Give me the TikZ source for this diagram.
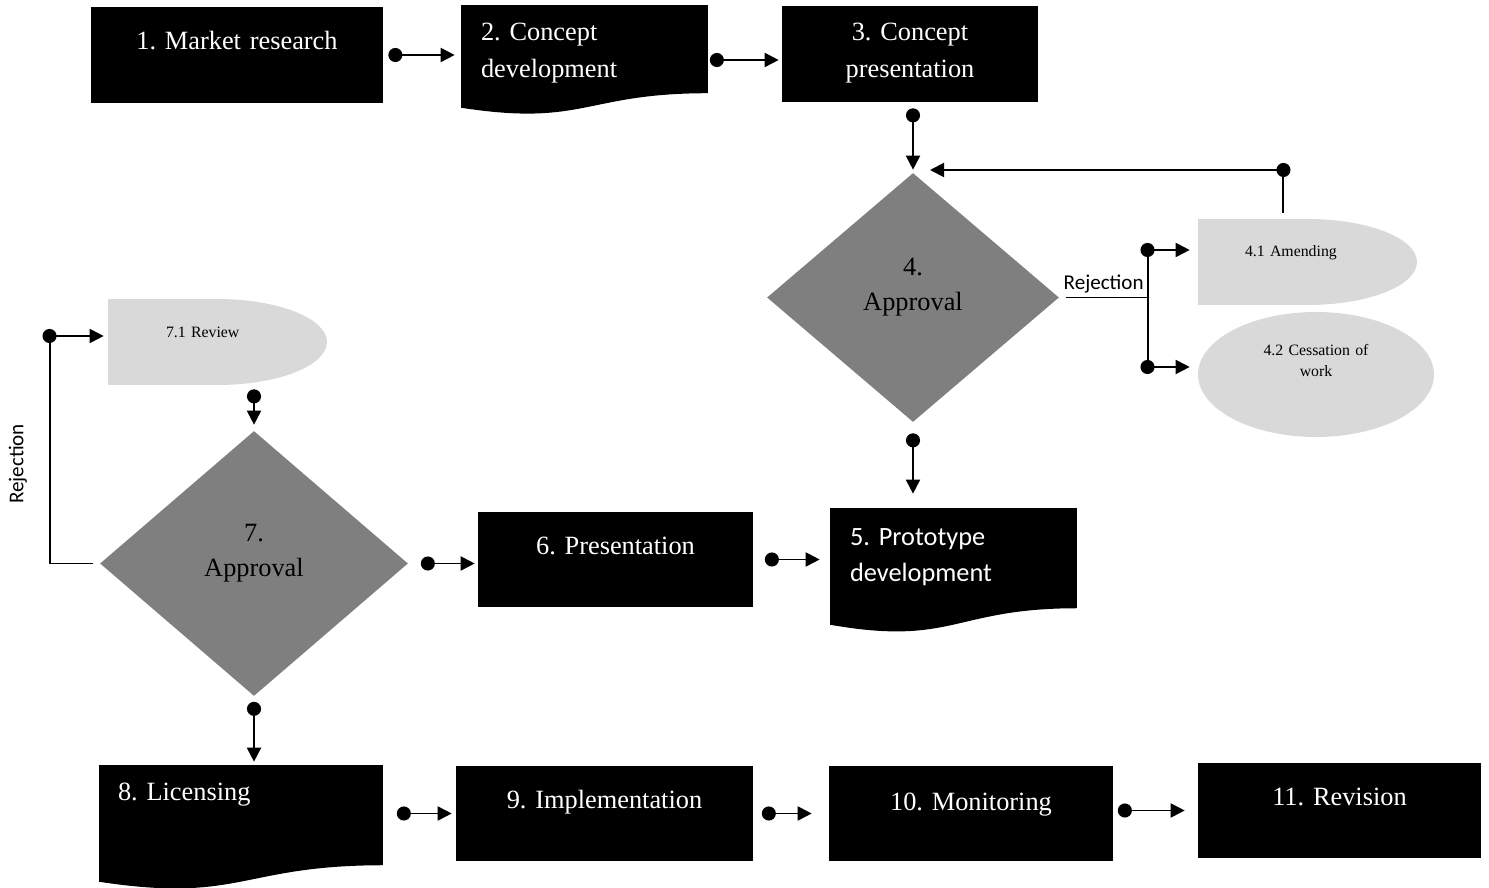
\documentclass[tikz,border=0pt]{standalone}
\usepackage{fontspec}
\setmainfont{Liberation Serif}
\newfontfamily\calibri{Carlito}
\usetikzlibrary{arrows.meta,shapes.geometric,calc}

\definecolor{dgray}{RGB}{127,127,127}
\definecolor{lgray}{RGB}{217,217,217}

\tikzset{
  bigfont/.style={font=\fontsize{15}{21}\selectfont},
  smallfont/.style={font=\fontsize{9}{12.5}\selectfont},
  box/.style={bigfont, fill=black, text=white, inner sep=0pt, text height=0.4cm, align=center},
  docbox/.style={bigfont, text=white, inner ysep=0pt, inner xsep=0.4cm, text height=0.4cm, align=left,
    path picture={\fill[black] let \p1=(path picture bounding box.north west),
      \p2=(path picture bounding box.south east) in
      (\x1,\y1) -- (\x2,\y1) -- (\x2,{\y1+0.802*(\y2-\y1)})
      .. controls ({(\x1+\x2)/2},{\y1+0.802*(\y2-\y1)}) and ({(\x1+\x2)/2},{\y1+1.1075*(\y2-\y1)})
      .. (\x1,{\y1+0.934*(\y2-\y1)}) -- cycle;}},
  delaybox/.style={smallfont, inner ysep=0pt, text height=0.4cm, align=left,
    path picture={\fill[lgray] let \p1=(path picture bounding box.north west),
      \p2=(path picture bounding box.south east),
      \n1={(\x2-\x1)/2}, \n2={(\y1-\y2)/2} in
      (\x1,\y1) -- ({\x1+\n1},\y1)
      arc[start angle=90, end angle=-90, x radius={\n1*1pt}, y radius={\n2*1pt}]
      -- (\x1,\y2) -- cycle;}},
  decision/.style={diamond, fill=dgray, inner sep=0pt, text height=0.4cm, text width=2.4cm,
    align=center, font=\fontsize{15}{20}\selectfont},
  rejlabel/.style={font=\calibri\fontsize{12}{14}\selectfont, inner sep=2pt},
  wire/.style={line width=1.1pt},
  flow/.style={wire, {Circle[length=8pt]}-{Triangle[length=8pt,width=8pt]}}
}

\begin{document}
\frenchspacing
\begin{tikzpicture}[x=0.02cm, y=-0.02cm]

    \useasboundingbox (0,0) rectangle (1489,888);

    % Etapes du haut
    \node[box, minimum width=5.84cm, minimum height=1.92cm, text width=5.84cm, text depth=0.6cm] (b1) at (237,55) {1. Market research};
    \node[docbox, minimum width=4.94cm, minimum height=2.2cm, text width=4.14cm, text depth=1.16cm] (b2) at (584.5,60) {2. Concept\\development};
    \node[box, minimum width=5.12cm, minimum height=1.92cm, text width=5.12cm, text depth=0.92cm] (b3) at (910,54) {3. Concept\\presentation};

    \node[decision, minimum width=5.84cm, minimum height=4.98cm, text depth=1.3cm] (d4) at (913,297.5) {4.\\Approval};
    \node[delaybox, minimum width=4.38cm, minimum height=1.72cm, inner xsep=0.94cm, text width=2.5cm, text depth=0.6cm] (a41) at (1307.5,262) {4.1 Amending};
    \node[ellipse, fill=lgray, smallfont, inner sep=0pt, minimum width=4.72cm, minimum height=2.5cm, text width=2.3cm, align=center, text height=0.4cm, text depth=1.18cm] (a42) at (1316,374.5) {4.2 Cessation of\\work};

    % Etapes du milieu
    \node[docbox, font=\calibri\fontsize{15}{21}\selectfont, minimum width=4.94cm, minimum height=2.5cm, text width=4.14cm, text depth=1.42cm] (b5) at (953.5,570.5) {5. Prototype\\development};
    \node[box, minimum width=5.5cm, minimum height=1.9cm, text width=5.5cm, text depth=0.62cm] (b6) at (615.5,559.5) {6. Presentation};
    \node[decision, minimum width=6.16cm, minimum height=5.3cm, text depth=1.3cm] (d7) at (254,563.5) {7.\\Approval};
    \node[delaybox, minimum width=4.38cm, minimum height=1.72cm, inner xsep=1.16cm, text width=2.06cm, text depth=0.56cm] (r71) at (217.5,342) {7.1 Review};

    % Etapes du bas
    \node[docbox, minimum width=5.68cm, minimum height=2.5cm, inner xsep=0.38cm, text width=4.92cm, text depth=1.5cm] (b8) at (241,827.5) {8. Licensing};
    \node[box, minimum width=5.94cm, minimum height=1.9cm, text width=5.94cm, text depth=0.62cm] (b9) at (604.5,813.5) {9. Implementation};
    \node[box, minimum width=5.68cm, minimum height=1.9cm, text width=5.68cm, text depth=0.54cm] (b10) at (971,813.5) {10. Monitoring};
    \node[box, minimum width=5.66cm, minimum height=1.9cm, text width=5.66cm, text depth=0.62cm] (b11) at (1339.5,810.5) {11. Revision};

    \coordinate (ret) at (1283,170);
    \coordinate (rej4) at (1148,297.5);
    \coordinate (rj1) at (1148,250);
    \coordinate (rj2) at (1148,367);
    \coordinate (rej7) at (50,563.5);
    \coordinate (rej7t) at (50,336);

    % Fleches
    \draw[flow, shorten <=0.1cm, shorten >=0.12cm] (b1.east) -- (b1.east -| b2.west);
    \draw[flow, shorten <=0.03cm, shorten >=0.06cm] (b2.east) -- (b2.east -| b3.west);
    \draw[flow, shorten <=0.12cm, shorten >=0.06cm] (b3.south -| d4.north) -- (d4.north);

    \draw[wire, shorten <=0.12cm] (a41.north -| ret) -- (ret);
    \draw[flow, shorten <=-0.15cm, shorten >=0.34cm] (ret) -- (ret -| d4.north);

    \draw[wire, shorten <=0.14cm] (d4.east) -- (rej4) node[midway, above, rejlabel] {Rejection};
    \draw[wire] (rj1) -- (rj2);
    \draw[flow, shorten <=-0.15cm, shorten >=0.16cm] (rj1) -- (rj1 -| a41.west);
    \draw[flow, shorten <=-0.15cm, shorten >=0.16cm] (rj2) -- (rj2 -| a42.west);

    \draw[flow, shorten <=0.22cm, shorten >=0.28cm] (d4.south) -- (d4.south |- b5.north);
    \draw[flow, shorten <=0.23cm, shorten >=0.2cm] (b6.east) -- (b6.east -| b5.west);
    \draw[flow, shorten <=0.25cm, shorten >=0.06cm] (d7.east) -- (d7.east -| b6.west);
    \draw[flow, shorten <=0.08cm, shorten >=0.12cm] (d7.north |- r71.south) -- (d7.north);

    \draw[wire, shorten <=0.14cm] (d7.west) -- (rej7) -- (rej7t);
    \draw[flow, shorten <=-0.15cm, shorten >=0.08cm] (rej7t) -- (rej7t -| r71.west);
    \node[rejlabel, rotate=90] (rejtext7) at (18,464) {Rejection};

    \draw[flow, shorten <=0.11cm, shorten >=0.06cm] (d7.south) -- (d7.south |- b8.north);
    \draw[flow, shorten <=0.27cm, shorten >=0.08cm] (b9.west -| b8.east) -- (b9.west);
    \draw[flow, shorten <=0.17cm, shorten >=0.34cm] (b9.east) -- (b10.west);
    \draw[flow, shorten <=0.09cm, shorten >=0.26cm] (b11.west -| b10.east) -- (b11.west);

\end{tikzpicture}
\end{document}
